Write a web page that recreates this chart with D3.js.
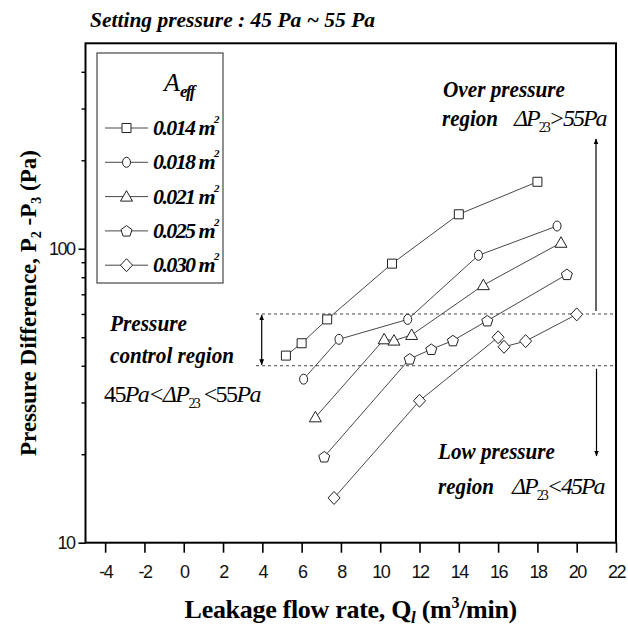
<!DOCTYPE html>
<html>
<head>
<meta charset="utf-8">
<script src="https://cdn.jsdelivr.net/npm/d3@7"></script>
<style>
  html, body { margin: 0; padding: 0; background: #fff; }
  svg { display: block; }
</style>
</head>
<body>
<div id="chart"></div>
<script>
const areas = ['0.014', '0.018', '0.021', '0.025', '0.030'];
const flow014 = [5.2, 6.0, 7.3, 10.6, 14.0, 18.0];
const dp014 = [43.3, 47.7, 57.5, 89, 131, 169];
const flow018 = [6.1, 7.9, 11.4, 15.0, 19.0];
const dp018 = [36.0, 49.2, 57.5, 95, 119.5];
const flow021 = [6.7, 10.2, 10.7, 11.6, 15.25, 19.2];
const dp021 = [26.7, 49.2, 48.7, 50.9, 75.2, 104.8];
const flow025 = [7.15, 11.5, 12.6, 13.7, 15.45, 19.5];
const dp025 = [19.6, 42.2, 45.5, 48.7, 56.9, 81.8];
const flow030 = [7.65, 12.0, 16.0, 16.3, 17.4, 20.0];
const dp030 = [14.2, 30.4, 50.0, 46.4, 48.5, 59.8];
const bandLevels = [40, 60];      // dashed lines around control region
const xTicks = [-4, -2, 0, 2, 4, 6, 8, 10, 12, 14, 16, 18, 20, 22];
const yMajor = [10, 100];
const yMinor = [20, 30, 40, 50, 60, 70, 80, 90, 200, 300, 400];

const W = 628, H = 628;
const plot = {left: 85.5, right: 616, top: 43.3, bottom: 542.7};
const serif = '"Liberation Serif", "Times New Roman", serif';
const sans = '"Liberation Sans", Arial, sans-serif';

let svg = d3.select('#chart').append('svg')
            .attr('width', W)
            .attr('height', H);

let xScale = d3.scaleLinear().domain([-5, 22]).range([plot.left, plot.right]);
let yScale = d3.scaleLog().domain([10, 500]).range([plot.bottom, plot.top]);

let series = [
  {name: areas[0], shape: 'square', x: flow014, y: dp014},
  {name: areas[1], shape: 'circle', x: flow018, y: dp018},
  {name: areas[2], shape: 'triangle', x: flow021, y: dp021},
  {name: areas[3], shape: 'pentagon', x: flow025, y: dp025},
  {name: areas[4], shape: 'diamond', x: flow030, y: dp030}
];

// marker outlines, centred on 0,0
function markerPath(shape){
  if(shape === 'square') return 'M-4.5,-4.5H4.5V4.5H-4.5Z';
  if(shape === 'circle') return 'M-4,0A4,5 0 1 0 4,0A4,5 0 1 0 -4,0Z';
  if(shape === 'triangle') return 'M0,-6L6,4.5L-6,4.5Z';
  if(shape === 'diamond') return 'M0,-6.5L6,0L0,6.5L-6,0Z';
  let pts = d3.range(5).map(i => {
    let a = -Math.PI / 2 + i * 2 * Math.PI / 5;
    return [5.8 * Math.cos(a), 5.8 * Math.sin(a) + 0.5];
  });
  return 'M' + pts.join('L') + 'Z';
}

// dashed band
svg.append('g')
  .selectAll('line')
  .data(bandLevels)
  .enter().append('line')
    .attr('x1', 256).attr('x2', plot.right)
    .attr('y1', d => yScale(d)).attr('y2', d => yScale(d))
    .attr('stroke', '#444')
    .attr('stroke-width', 1)
    .attr('stroke-dasharray', '3,3');

// arrows
let defs = svg.append('defs');
defs.append('marker')
    .attr('id', 'head')
    .attr('viewBox', '0 0 10 10')
    .attr('refX', 9).attr('refY', 5)
    .attr('markerWidth', 5).attr('markerHeight', 7)
    .attr('orient', 'auto-start-reverse')
  .append('path')
    .attr('d', 'M0,1L10,5L0,9Z')
    .attr('fill', '#000');

svg.append('line')
  .attr('x1', 261.7).attr('x2', 261.7)
  .attr('y1', yScale(bandLevels[1]) + 1).attr('y2', yScale(bandLevels[0]) - 1)
  .attr('stroke', '#000').attr('stroke-width', 1.2)
  .attr('marker-start', 'url(#head)')
  .attr('marker-end', 'url(#head)');
svg.append('line')
  .attr('x1', 596).attr('x2', 596)
  .attr('y1', yScale(bandLevels[1]) - 3).attr('y2', 139)
  .attr('stroke', '#000').attr('stroke-width', 1.2)
  .attr('marker-end', 'url(#head)');
svg.append('line')
  .attr('x1', 596.5).attr('x2', 596.5)
  .attr('y1', yScale(bandLevels[0]) + 3).attr('y2', 456)
  .attr('stroke', '#000').attr('stroke-width', 1.2)
  .attr('marker-end', 'url(#head)');

// series lines + markers
let line = d3.line()
             .x(d => xScale(d[0]))
             .y(d => yScale(d[1]));

let g_series = svg.append('g')
  .selectAll('g')
  .data(series)
  .enter().append('g');
g_series.append('path')
  .attr('fill', 'none')
  .attr('stroke', '#333')
  .attr('stroke-width', 0.9)
  .attr('d', d => line(d.x.map((v, i) => [v, d.y[i]])));
g_series.selectAll('path.pt')
  .data(d => d.x.map((v, i) => ({x: v, y: d.y[i], shape: d.shape})))
  .enter().append('path')
    .attr('class', 'pt')
    .attr('transform', d => `translate(${xScale(d.x)},${yScale(d.y)})`)
    .attr('d', d => markerPath(d.shape))
    .attr('fill', '#fff')
    .attr('stroke', '#222')
    .attr('stroke-width', 1);

// axes
let xAxis = g => g.attr('transform', `translate(0,${plot.bottom})`)
                  .call(d3.axisBottom(xScale).tickValues(xTicks).tickSize(10).tickSizeOuter(0).tickPadding(13)
                          .tickFormat(d => String(d)))
                  .call(g => g.select('.domain').remove())
                  .call(g => g.selectAll('.tick line').attr('stroke-width', 1.6))
                  .call(g => g.selectAll('.tick text')
                              .attr('font-family', sans)
                              .attr('font-size', 18)
                              .attr('letter-spacing', -1.5)
                              .attr('fill', '#111'));
svg.append('g').call(xAxis);

let yAxis = g => g.attr('transform', `translate(${plot.left},0)`)
                  .call(d3.axisLeft(yScale).tickValues(yMajor).tickSize(7).tickPadding(4).tickFormat(d => String(d)))
                  .call(g => g.select('.domain').remove())
                  .call(g => g.selectAll('.tick line').attr('stroke-width', 1.6))
                  .call(g => g.selectAll('.tick text')
                              .attr('font-family', sans)
                              .attr('font-size', 18)
                              .attr('letter-spacing', -1.5)
                              .attr('fill', '#111'));
svg.append('g').call(yAxis);
svg.append('g')
  .attr('transform', `translate(${plot.left},0)`)
  .call(d3.axisLeft(yScale).tickValues(yMinor).tickSize(4).tickFormat(''))
  .call(g => g.select('.domain').remove())
  .call(g => g.selectAll('.tick line').attr('stroke-width', 1.4));

// frame
svg.append('rect')
  .attr('x', plot.left).attr('y', plot.top)
  .attr('width', plot.right - plot.left)
  .attr('height', plot.bottom - plot.top)
  .attr('fill', 'none')
  .attr('stroke', '#000')
  .attr('stroke-width', 2);

// legend
let legend = svg.append('g');
legend.append('rect')
  .attr('x', 97).attr('y', 53)
  .attr('width', 126).attr('height', 230)
  .attr('fill', '#fff')
  .attr('stroke', '#222')
  .attr('stroke-width', 1);
let title = legend.append('text')
  .attr('x', 164).attr('y', 91)
  .attr('font-family', serif);
title.append('tspan').attr('font-size', 26).attr('font-style', 'italic').text('A');
title.append('tspan').attr('font-size', 17).attr('font-style', 'italic')
     .attr('font-weight', 'bold').attr('dy', 6).attr('letter-spacing', -1.5).text('eff');
let rows = legend.selectAll('g.row')
  .data(series)
  .enter().append('g')
    .attr('class', 'row')
    .attr('transform', (d, i) => `translate(0,${128 + 34.3 * i})`);
rows.append('line')
  .attr('x1', 105).attr('x2', 148)
  .attr('stroke', '#333').attr('stroke-width', 0.9);
rows.append('path')
  .attr('transform', 'translate(126.5,0)')
  .attr('d', d => markerPath(d.shape))
  .attr('fill', '#fff').attr('stroke', '#222');
let rowText = rows.append('text')
  .attr('x', 153).attr('y', 7)
  .attr('font-family', serif)
  .attr('font-size', 22)
  .attr('font-weight', 'bold')
  .attr('font-style', 'italic')
  .attr('letter-spacing', -1.6);
rowText.append('tspan').text(d => d.name + ' m');
rowText.append('tspan').attr('font-size', 11).attr('dx', 0).attr('dy', -12).text('2');

// annotation text
function annot(x, y, txt, width, opts){
  let t = svg.append('text')
    .attr('x', x).attr('y', y)
    .attr('font-family', serif)
    .attr('font-size', opts.size || 20)
    .attr('font-weight', opts.bold ? 'bold' : 'normal')
    .attr('font-style', 'italic')
    .text(txt);
  if(width) t.attr('textLength', width).attr('lengthAdjust', 'spacingAndGlyphs');
  return t;
}
function deltaText(x, y, op, val){
  let t = svg.append('text')
    .attr('x', x).attr('y', y)
    .attr('font-family', serif)
    .attr('font-size', 24)
    .attr('font-style', 'italic')
    .attr('letter-spacing', -2);
  t.append('tspan').text('\u0394P');
  t.append('tspan').attr('font-size', 14).attr('font-style', 'normal').attr('dy', 6).text('23');
  t.append('tspan').attr('dy', -6).text(op + val + 'Pa');
  return t;
}

annot(90, 27, 'Setting pressure : 45 Pa ~ 55 Pa', 285, {bold: true, size: 21});

annot(443, 97, 'Over pressure', 122, {bold: true, size: 23});
annot(442, 126, 'region', 56, {bold: true, size: 23});
deltaText(514, 126, '>', '55');

annot(438, 459, 'Low pressure', 117, {bold: true, size: 23});
annot(438, 494, 'region', 56, {bold: true, size: 23});
deltaText(512, 494, '<', '45');

annot(110, 331, 'Pressure', 77, {bold: true, size: 23});
annot(110, 363, 'control region', 124, {bold: true, size: 23});
let ctrl = svg.append('text')
  .attr('x', 104).attr('y', 402)
  .attr('font-family', serif)
  .attr('font-size', 24)
  .attr('font-style', 'italic')
  .attr('letter-spacing', -1.6);
ctrl.append('tspan').attr('font-style', 'normal').text('45');
ctrl.append('tspan').text('Pa<\u0394P');
ctrl.append('tspan').attr('font-size', 14).attr('font-style', 'normal').attr('dy', 6).text('23');
ctrl.append('tspan').attr('dy', -6).attr('font-style', 'normal').text(' <55');
ctrl.append('tspan').text('Pa');

// axis titles
let xTitle = svg.append('text')
  .attr('x', (plot.left + plot.right) / 2).attr('y', 618)
  .attr('text-anchor', 'middle')
  .attr('font-family', serif)
  .attr('font-size', 26)
  .attr('font-weight', 'bold')
  .attr('letter-spacing', -0.3);
xTitle.append('tspan').text('Leakage flow rate, Q');
xTitle.append('tspan').attr('font-size', 17).attr('font-style', 'italic').attr('dy', 5).text('l');
xTitle.append('tspan').attr('dy', -5).text(' (m');
xTitle.append('tspan').attr('font-size', 16).attr('dy', -10).text('3');
xTitle.append('tspan').attr('dy', 10).text('/min)');

let yTitle = svg.append('text')
  .attr('transform', `translate(36,${(plot.top + plot.bottom) / 2 + 10}) rotate(-90)`)
  .attr('text-anchor', 'middle')
  .attr('font-family', serif)
  .attr('font-size', 23)
  .attr('font-weight', 'bold');
yTitle.append('tspan').text('Pressure Difference, P');
yTitle.append('tspan').attr('font-size', 14).attr('dy', 5).text('2');
yTitle.append('tspan').attr('dy', -5).text(' -P');
yTitle.append('tspan').attr('font-size', 14).attr('dy', 5).text('3');
yTitle.append('tspan').attr('dy', -5).text(' (Pa)');
</script>
</body>
</html>
